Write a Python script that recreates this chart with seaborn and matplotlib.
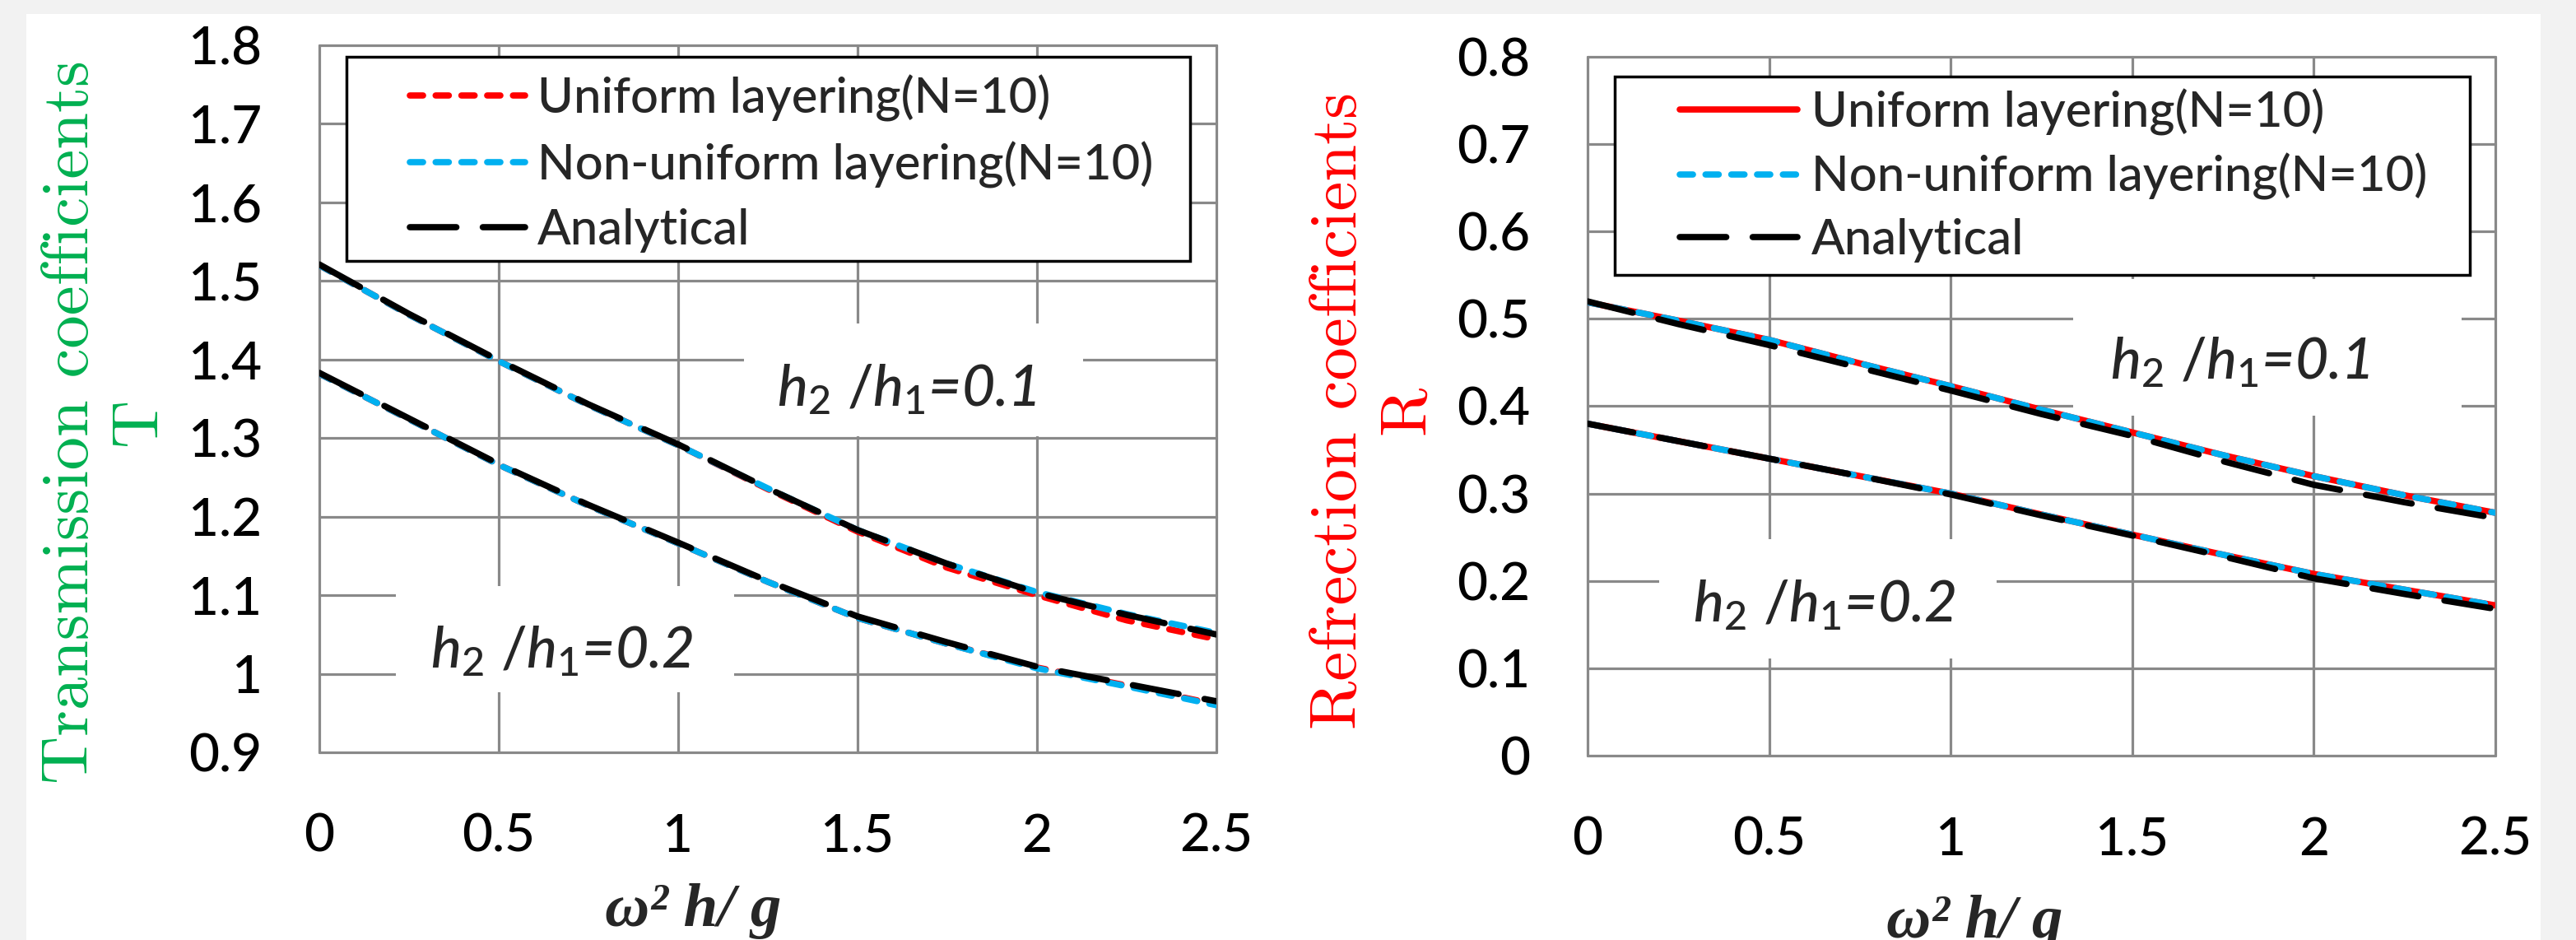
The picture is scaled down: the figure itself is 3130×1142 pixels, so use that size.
import matplotlib
matplotlib.use("Agg")
import matplotlib.pyplot as plt
import seaborn as sns
from matplotlib.patches import Rectangle
from matplotlib.ticker import FuncFormatter, MultipleLocator

# ==================================================
# DATA
# ==================================================

x_omega = [0, 0.25, 0.5, 0.75, 1.0, 1.25, 1.5, 1.75, 2.0, 2.25, 2.5]

# transmission, h2/h1 = 0.1
T_uniform_01 = [1.520, 1.457, 1.398, 1.342, 1.291, 1.235, 1.181, 1.135, 1.100, 1.068, 1.044]
T_nonuniform_01 = [1.520, 1.457, 1.398, 1.342, 1.291, 1.236, 1.183, 1.140, 1.104, 1.076, 1.052]
T_analytical_01 = [1.521, 1.458, 1.399, 1.343, 1.292, 1.236, 1.183, 1.140, 1.103, 1.075, 1.050]

# transmission, h2/h1 = 0.2
T_uniform_02 = [1.382, 1.324, 1.266, 1.214, 1.166, 1.117, 1.071, 1.038, 1.008, 0.985, 0.961]
T_nonuniform_02 = [1.382, 1.324, 1.266, 1.214, 1.166, 1.117, 1.071, 1.038, 1.007, 0.984, 0.960]
T_analytical_02 = [1.383, 1.325, 1.267, 1.215, 1.167, 1.118, 1.073, 1.040, 1.009, 0.987, 0.965]

# reflection, h2/h1 = 0.1
R_uniform_01 = [0.519, 0.498, 0.476, 0.449, 0.423, 0.396, 0.370, 0.344, 0.320, 0.298, 0.278]
R_nonuniform_01 = [0.519, 0.498, 0.476, 0.449, 0.423, 0.396, 0.370, 0.344, 0.320, 0.298, 0.278]
R_analytical_01 = [0.520, 0.494, 0.470, 0.444, 0.418, 0.391, 0.366, 0.337, 0.310, 0.290, 0.272]

# reflection, h2/h1 = 0.2
R_uniform_02 = [0.380, 0.360, 0.340, 0.320, 0.300, 0.276, 0.253, 0.230, 0.208, 0.190, 0.172]
R_nonuniform_02 = [0.380, 0.360, 0.340, 0.320, 0.300, 0.276, 0.253, 0.230, 0.208, 0.190, 0.172]
R_analytical_02 = [0.380, 0.360, 0.340, 0.320, 0.299, 0.275, 0.252, 0.228, 0.203, 0.185, 0.168]

labels = ["Uniform layering(N=10)", "Non-uniform layering(N=10)", "Analytical"]

# ==================================================
# STYLE
# ==================================================

sns.set_style("white")
plt.rcParams["font.family"] = ["Lato", "DejaVu Sans"]
plt.rcParams["font.weight"] = "medium"
plt.rcParams["mathtext.fontset"] = "custom"
plt.rcParams["mathtext.it"] = "Lato:italic"
plt.rcParams["mathtext.rm"] = "Lato"

RED = "#ff0000"
CYAN = "#00b0f0"
GREEN = "#00b050"
GRID = "#898989"
LW = 5.5
SHORT = (0, (2.1, 2.0))
LONG = (0, (7.4, 4.2))

fig = plt.figure(figsize=(31.3, 11.42), dpi=100, facecolor="#f2f2f2")
fig.add_artist(Rectangle((32 / 3130, 0), (3087 - 32) / 3130, (1142 - 17) / 1142,
                         transform=fig.transFigure, fc="white", ec="none", zorder=-1))

ax1 = fig.add_axes([0.12396, 0.19965, 0.34824, 0.75219])
ax2 = fig.add_axes([0.61629, 0.19615, 0.35240, 0.74343])


def style_axes(ax, ymin, ymax):
    ax.set_xlim(0, 2.5)
    ax.set_ylim(ymin, ymax)
    ax.xaxis.set_major_locator(MultipleLocator(0.5))
    ax.yaxis.set_major_locator(MultipleLocator(0.1))
    ax.xaxis.set_major_formatter(FuncFormatter(lambda v, p: f"{v:g}"))
    ax.yaxis.set_major_formatter(FuncFormatter(lambda v, p: f"{v:g}"))
    for s in ax.spines.values():
        s.set_visible(False)
    ax.set_axisbelow(True)
    ax.grid(True, color=GRID, lw=2.3, clip_on=False)
    ax.tick_params(axis="both", length=17, width=2.3, color=GRID, direction="out",
                   labelsize=46, labelcolor="black")
    ax.tick_params(axis="y", pad=33)
    ax.tick_params(axis="x", pad=36)
    ax.set_facecolor("white")


def draw_line(ax, y, color, ls, z):
    sns.lineplot(x=x_omega, y=y, ax=ax, color=color, lw=LW, linestyle=ls,
                 dash_capstyle="round", solid_capstyle="round", zorder=z)


def white_box(ax, x0, x1, y0, y1, edge=None):
    ax.add_patch(Rectangle((x0, y0), x1 - x0, y1 - y0, transform=ax.transAxes,
                           fc="white", ec=edge if edge else "none", lw=2.5,
                           zorder=3, clip_on=False))


def ratio_text(ax, x, y, s):
    ax.text(x, y, s, transform=ax.transAxes, fontsize=50, fontstyle="italic",
            ha="center", va="center", zorder=4)

# ==================================================
# LEFT: TRANSMISSION
# ==================================================

draw_line(ax1, T_uniform_01, RED, SHORT, 4)
draw_line(ax1, T_nonuniform_01, CYAN, SHORT, 5)
draw_line(ax1, T_analytical_01, "black", LONG, 6)
draw_line(ax1, T_uniform_02, RED, SHORT, 4)
draw_line(ax1, T_nonuniform_02, CYAN, SHORT, 5)
draw_line(ax1, T_analytical_02, "black", LONG, 6)
style_axes(ax1, 0.9, 1.8)

white_box(ax1, 0.4734, 0.8514, 0.447, 0.6065)
white_box(ax1, 0.0853, 0.4624, 0.085, 0.235)
ratio_text(ax1, 0.655, 0.513, r"$h_2\ /h_1$=0.1")
ratio_text(ax1, 0.27, 0.143, r"$h_2\ /h_1$=0.2")

white_box(ax1, 0.0303, 0.9706, 0.695, 0.9837, edge="black")
h = ax1.get_lines()
ax1.legend(h[:3], labels, loc="upper left", bbox_to_anchor=(0.0734, 0.9935),
           frameon=False, borderpad=0, fontsize=43, handlelength=2.35,
           handletextpad=0.25, labelspacing=0.40).set_zorder(7)

ax1.set_ylabel("Transmission coefficients\nT", color=GREEN, fontsize=58,
               family="cmr10", fontweight="normal", linespacing=1.2)
ax1.yaxis.label.set(ha="center", va="center", multialignment="center")
ax1.yaxis.set_label_coords(-0.2376, 0.467)
ax1.set_xlabel("ω² h/ g", family="Liberation Serif", fontstyle="italic",
               fontweight="bold", fontsize=54)
ax1.xaxis.label.set(ha="center", va="top")
ax1.xaxis.set_label_coords(0.4165, -0.185)

# ==================================================
# RIGHT: REFLECTION
# ==================================================

draw_line(ax2, R_uniform_01, RED, "-", 4)
draw_line(ax2, R_nonuniform_01, CYAN, SHORT, 5)
draw_line(ax2, R_analytical_01, "black", LONG, 6)
draw_line(ax2, R_uniform_02, RED, "-", 4)
draw_line(ax2, R_nonuniform_02, CYAN, SHORT, 5)
draw_line(ax2, R_analytical_02, "black", LONG, 6)
style_axes(ax2, 0, 0.8)

white_box(ax2, 0.535, 0.963, 0.486, 0.682)
white_box(ax2, 0.079, 0.4506, 0.139, 0.310)
ratio_text(ax2, 0.719, 0.563, r"$h_2\ /h_1$=0.1")
ratio_text(ax2, 0.261, 0.2155, r"$h_2\ /h_1$=0.2")

white_box(ax2, 0.0299, 0.972, 0.688, 0.9717, edge="black")
h = ax2.get_lines()
ax2.legend(h[:3], labels, loc="upper left", bbox_to_anchor=(0.0743, 0.9899),
           frameon=False, borderpad=0, fontsize=43, handlelength=2.4,
           handletextpad=0.28, labelspacing=0.36).set_zorder(7)

ax2.set_ylabel("Refrection coefficients\nR", color=RED, fontsize=58,
               family="cmr10", fontweight="normal", linespacing=1.2)
ax2.yaxis.label.set(ha="center", va="center", multialignment="center")
ax2.yaxis.set_label_coords(-0.2353, 0.494)
ax2.set_xlabel("ω² h/ g", family="Liberation Serif", fontstyle="italic",
               fontweight="bold", fontsize=54)
ax2.xaxis.label.set(ha="center", va="top")
ax2.xaxis.set_label_coords(0.426, -0.199)

fig.savefig("out.png", dpi=100, facecolor=fig.get_facecolor())
